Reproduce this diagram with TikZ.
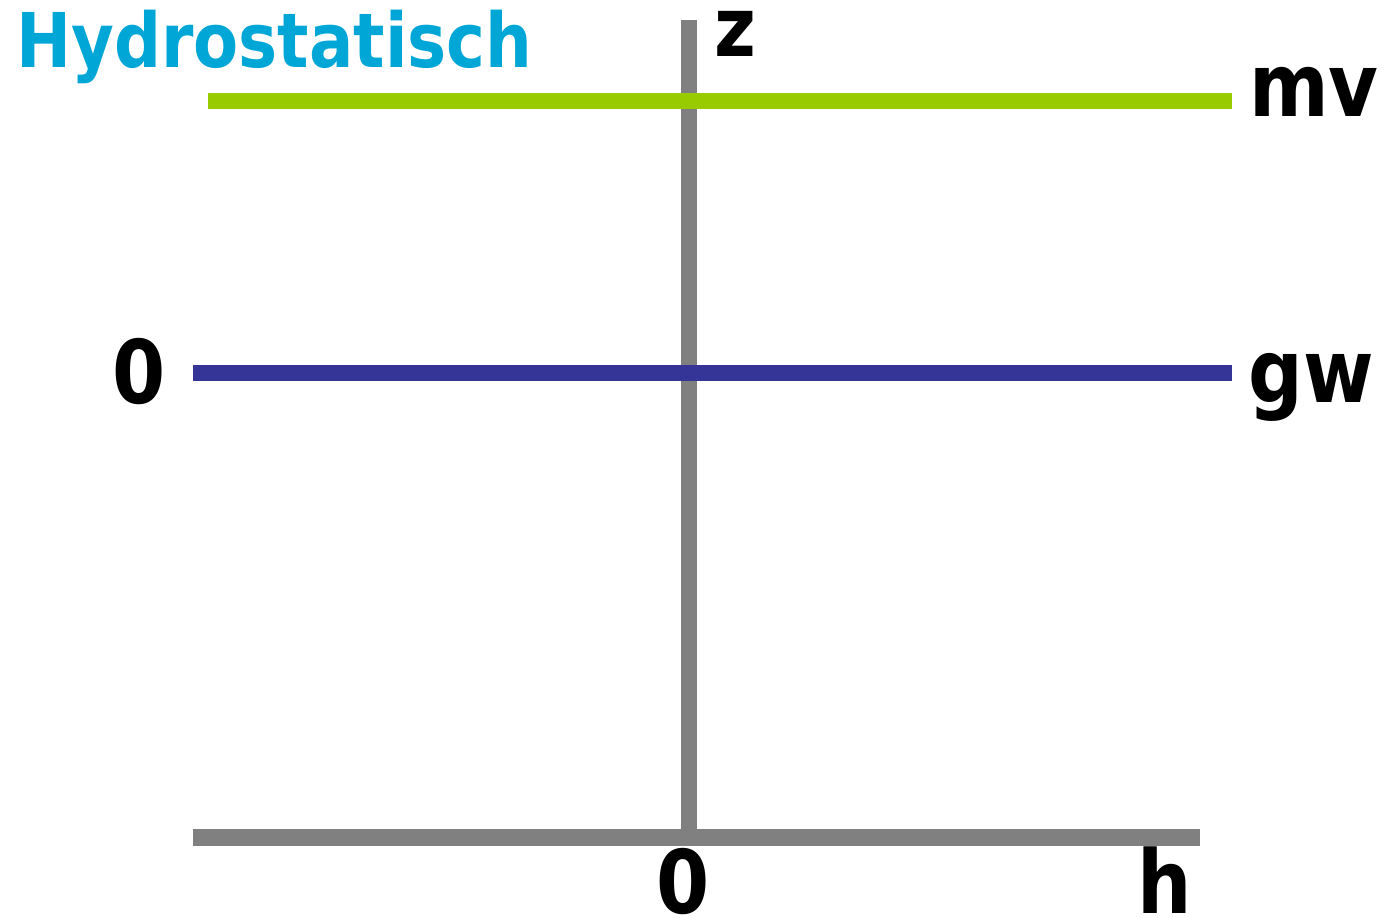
\documentclass[tikz,border=0pt]{standalone}
\usepackage{fontspec}
\setmainfont{DejaVu Sans}[FakeStretch=0.87]
\definecolor{tudcyan}{HTML}{00A6D6}
\definecolor{mvgreen}{HTML}{99CC00}
\definecolor{gwblue}{HTML}{353597}
\definecolor{axisgray}{HTML}{808080}
\tikzset{
  axis/.style={line width=9.2pt, color=axisgray},
  level/.style={line width=9pt},
  lbl/.style={anchor=base west, inner sep=0pt, text depth=0pt, text height=0.73em,
    font=\fontsize{50}{56}\selectfont\bfseries},
  lowlbl/.style={lbl, text height=0.55em}
}
\begin{document}
\begin{tikzpicture}[x=0.02cm, y=-0.02cm]
        \useasboundingbox (0,0) rectangle (1387,918);

        % axes z and h
        \coordinate (zTop) at (689,20);
        \coordinate (zBot) at (689,830);
        \coordinate (hLeft) at (193,837.5);
        \coordinate (hRight) at (1200,837.5);
        \draw[axis] (zTop) -- (zBot);
        \draw[axis] (hLeft) -- (hRight);

        % maaiveld and grondwater
        \coordinate (mvLeft) at (208,101);
        \coordinate (mvRight) at (1232,101);
        \coordinate (gwLeft) at (193,373);
        \coordinate (gwRight) at (1232,373);
        \draw[level, mvgreen] (mvLeft) -- (mvRight);
        \draw[level, gwblue] (gwLeft) -- (gwRight);

        % labels
        \node[lbl, text=tudcyan, font=\fontsize{43}{50}\selectfont\bfseries] (title) at (16,68) {Hydrostatisch};
        \node[lowlbl, font=\fontsize{47}{52}\selectfont\bfseries] (zlabel) at (714,57) {z};
        \node[lowlbl] (mvlabel) at (1249,117) {mv};
        \node[lowlbl] (gwlabel) at (1248,403) {gw};
        \node[lbl] (zzero) at (112,404) {0};
        \node[lbl] (hzero) at (656,913) {0};
        \node[lbl] (hlabel) at (1137,913) {h};

    \end{tikzpicture}
\end{document}
